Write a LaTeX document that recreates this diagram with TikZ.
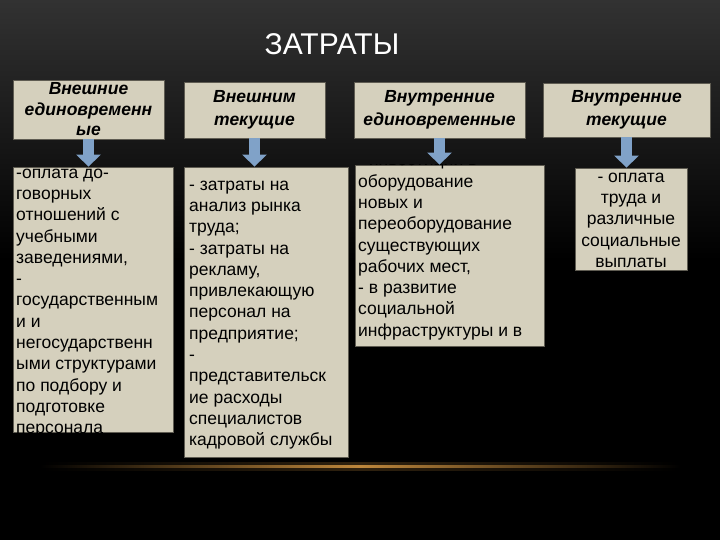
\documentclass[tikz,border=0pt]{standalone}
\usepackage{fontspec}
\setmainfont{Liberation Sans}
\usetikzlibrary{arrows.meta}

\definecolor{boxfill}{RGB}{213,208,189}
\definecolor{boxline}{RGB}{95,92,82}
\definecolor{arrowblue}{RGB}{128,162,200}
\definecolor{glow}{RGB}{190,135,60}
\definecolor{bgtop}{RGB}{50,50,50}

\begin{document}
\begin{tikzpicture}[x=1pt,y=-1pt,
		headbox/.style={fill=boxfill, draw=boxline, line width=0.6pt, inner sep=0pt,
			font=\fontsize{17.5}{22.5}\selectfont\bfseries\itshape, align=center},
		listbox/.style={fill=boxfill, draw=boxline, line width=0.8pt, inner sep=0pt},
		listtext/.style={font=\fontsize{17.5}{21.3}\selectfont, align=left, inner sep=0pt, anchor=north west},
		downarrow/.style={draw=arrowblue, line width=11pt, -{Triangle[width=24pt,length=12pt]}}]
			\useasboundingbox (0,0) rectangle (720,540);

			% Background
			\shade[top color=bgtop, bottom color=black] (0,0) rectangle (720,260);
			\fill[black] (0,260) rectangle (720,540);
			\shade[left color=black, right color=black, middle color=glow, opacity=0.25] (40,462) rectangle (680,470);
			\shade[left color=black, right color=black, middle color=glow] (40,465) rectangle (680,467);

			% Title
			\node[font=\fontsize{30}{36}\selectfont, text=white] (title) at (332,44) {ЗАТРАТЫ};

			% Headers
			\node[headbox, font=\fontsize{17.5}{20.5}\selectfont\bfseries\itshape, minimum width=151pt, minimum height=59pt] (h1) at (88.5,109.5) {Внешние\\единовременн\\ые};
			\node[headbox, minimum width=141pt, minimum height=56pt] (h2) at (254.5,110) {Внешним\\текущие};
			\node[headbox, minimum width=171pt, minimum height=56pt] (h3) at (439.5,110) {Внутренние\\единовременные};
			\node[headbox, minimum width=167pt, minimum height=54pt] (h4) at (626.5,110) {Внутренние\\текущие};

			% Boxes with the items
			\node[listbox, minimum width=160pt, minimum height=265pt] (b1) at (93,299.5) {};
			\node[listbox, minimum width=164pt, minimum height=290pt] (b2) at (266,312) {};
			\node[listbox, minimum width=189pt, minimum height=181pt] (b3) at (449.5,255.5) {};
			\node[listbox, minimum width=112pt, minimum height=102pt] (b4) at (631,219) {};

			\begin{scope}
				\clip (b1.north west) rectangle (b1.south east);
				\node[listtext] (t1) at (16,163) {\strut -оплата до-\\говорных\\отношений с\\учебными\\заведениями,\\-\\государственным\\и и\\негосударственн\\ыми структурами\\по подбору и\\подготовке\\персонала};
			\end{scope}
			\node[listtext] (t2) at (189,175) {\strut - затраты на\\анализ рынка\\труда;\\- затраты на\\рекламу,\\привлекающую\\персонал на\\предприятие;\\-\\представительск\\ие расходы\\специалистов\\кадровой службы};
			\begin{scope}
				\clip (b3.north west) rectangle (b3.south east);
				\node[listtext] (t3) at (358,150.7) {\strut - инвестиции в\\оборудование\\новых и\\переоборудование\\существующих\\рабочих мест,\\- в развитие\\социальной\\инфраструктуры и в};
			\end{scope}
			\node[listtext, anchor=north, align=center] (t4) at (631,167) {\strut - оплата\\труда и\\различные\\социальные\\выплаты};

			% Arrows from headers to boxes
			\draw[downarrow] (h1.south) -- (h1.south |- b1.north);
			\draw[downarrow] (h2.south) -- (h2.south |- b2.north);
			\draw[downarrow] (h3.south) -- (h3.south |- b3.north);
			\draw[downarrow] (h4.south) -- (h4.south |- b4.north);
		\end{tikzpicture}
\end{document}
